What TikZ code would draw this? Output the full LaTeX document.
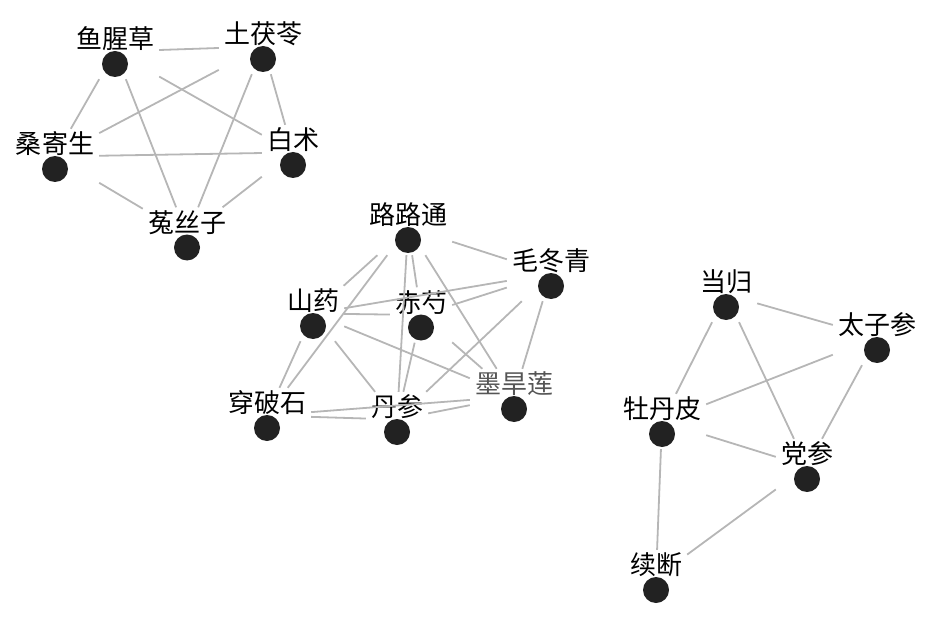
\documentclass[tikz,border=0pt]{standalone}
\usepackage{fontspec}
\newfontfamily\cjk{Noto Sans CJK SC}
\definecolor{edgegray}{RGB}{182,182,182}
\definecolor{dotc}{RGB}{34,34,34}
\definecolor{lightlab}{RGB}{85,85,85}
\begin{document}
\begin{tikzpicture}[x=1pt,y=-1pt,
  hub/.style={rectangle, inner xsep=5pt, inner ysep=0pt, minimum height=55pt,
    font=\cjk\fontsize{26}{26}\selectfont},
  lab/.style={font=\cjk\fontsize{26}{26}\selectfont, inner sep=0pt},
  edge/.style={draw=edgegray, line width=1.8pt}]
\useasboundingbox (0,0) rectangle (933,628);
\newcommand\herb[5][black]{%
  \node[hub] (#2) at (#3,#4) {\phantom{#5}};
  \node[lab, text=#1] (#2-t) at ([yshift=12.5pt]#2.center) {#5};
  \fill[dotc] ([yshift=-12.5pt]#2.center) circle (13pt);
}
% cluster 1
\herb{yxc}{115}{51.5}{鱼腥草}
\herb{tfl}{263}{46.5}{土茯苓}
\herb{sjs}{55}{156.5}{桑寄生}
\herb{bz}{293}{152.5}{白术}
\herb{tsz}{187}{235}{菟丝子}
% cluster 2
\herb{llt}{408}{227.5}{路路通}
\herb{mdq}{551}{273.5}{毛冬青}
\herb{sy}{313}{313.5}{山药}
\herb{cs}{421}{315}{赤芍}
\herb[lightlab]{mhl}{514}{396.5}{墨旱莲}
\herb{cps}{267}{415.5}{穿破石}
\herb{ds}{397}{419.5}{丹参}
% cluster 3
\herb{dg}{726}{294.5}{当归}
\herb{tzs}{877}{337.5}{太子参}
\herb{mdp}{662}{421.5}{牡丹皮}
\herb{dsn}{807}{466.5}{党参}
\herb{xd}{656}{577.5}{续断}
% edges cluster 1
\draw[edge] (yxc) -- (tfl);
\draw[edge] (yxc) -- (sjs);
\draw[edge] (yxc) -- (tsz);
\draw[edge] (yxc) -- (bz);
\draw[edge] (tfl) -- (sjs);
\draw[edge] (tfl) -- (tsz);
\draw[edge] (tfl) -- (bz);
\draw[edge] (sjs) -- (bz);
\draw[edge] (sjs) -- (tsz);
\draw[edge] (bz) -- (tsz);
% edges cluster 2
\draw[edge] (llt) -- (mdq);
\draw[edge] (llt) -- (sy);
\draw[edge] (llt) -- (cps);
\draw[edge] (llt) -- (ds);
\draw[edge] (llt) -- (cs);
\draw[edge] (llt) -- (mhl);
\draw[edge] (mdq) -- (sy);
\draw[edge] (mdq) -- (cs);
\draw[edge] (mdq) -- (ds);
\draw[edge] (mdq) -- (mhl);
\draw[edge] (sy) -- (cs);
\draw[edge] (sy) -- (mhl);
\draw[edge] (sy) -- (ds);
\draw[edge] (sy) -- (cps);
\draw[edge] (cs) -- (ds);
\draw[edge] (cs) -- (mhl);
\draw[edge] (cps) -- (ds);
\draw[edge] (cps) -- (mhl);
\draw[edge] (ds) -- (mhl);
% edges cluster 3
\draw[edge] (dg) -- (tzs);
\draw[edge] (dg) -- (mdp);
\draw[edge] (dg) -- (dsn);
\draw[edge] (tzs) -- (mdp);
\draw[edge] (tzs) -- (dsn);
\draw[edge] (mdp) -- (dsn);
\draw[edge] (mdp) -- (xd);
\draw[edge] (dsn) -- (xd);
\end{tikzpicture}
\end{document}
